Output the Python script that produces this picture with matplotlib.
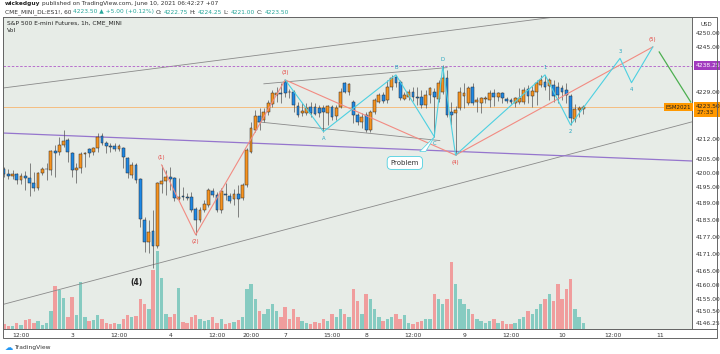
import matplotlib
matplotlib.use("Agg")
import matplotlib.pyplot as plt
from matplotlib.transforms import blended_transform_factory

plt.rcParams['font.family'] = ['DejaVu Sans']

# hourly ES1! candles, Jun 2 - Jun 10 2021
opens = [4201.2, 4199.4, 4199.0, 4199.4, 4197.4, 4198.9, 4198.0, 4196.2, 4194.6, 4199.8,
         4201.2, 4201.0, 4207.8, 4207.3, 4209.9, 4211.7, 4207.0, 4201.0, 4201.6, 4206.6,
         4208.4, 4207.3, 4208.7, 4213.1, 4210.5, 4209.6, 4209.6, 4208.4, 4208.7, 4205.2,
         4199.2, 4202.8, 4197.6, 4183.1, 4175.3, 4179.0, 4173.8, 4196.0, 4197.2, 4198.4,
         4198.0, 4190.5, 4191.7, 4191.2, 4191.4, 4186.9, 4183.1, 4186.7, 4188.5, 4193.5,
         4192.0, 4186.7, 4192.5, 4191.7, 4190.5, 4192.4, 4190.9, 4195.6, 4207.5, 4215.3,
         4220.3, 4218.9, 4221.8, 4224.6, 4227.8, 4228.6, 4232.6, 4229.0, 4229.0, 4223.9,
         4221.3, 4221.5, 4223.4, 4223.6, 4223.0, 4223.0, 4221.3, 4223.6, 4220.3, 4223.6,
         4232.0, 4229.0, 4225.4, 4220.7, 4218.3, 4220.7, 4215.3, 4221.8, 4225.4, 4227.8,
         4226.0, 4230.8, 4234.1, 4232.6, 4226.3, 4227.2, 4229.0, 4227.2, 4227.2, 4224.2,
         4227.8, 4229.0, 4226.3, 4229.0, 4233.8, 4221.8, 4221.3, 4223.0, 4227.5, 4224.8,
         4230.8, 4225.4, 4225.0, 4226.3, 4226.0, 4228.6, 4227.0, 4228.4, 4226.3, 4226.0,
         4225.1, 4225.4, 4225.4, 4229.9, 4227.5, 4229.0, 4231.4, 4232.6, 4231.0, 4231.4,
         4230.8, 4230.2, 4229.6, 4227.5, 4219.1, 4222.4, 4222.75]
highs = [4202.2, 4201.2, 4200.8, 4200.0, 4200.0, 4200.6, 4203.4, 4200.4, 4200.4, 4202.2,
         4203.4, 4208.1, 4209.9, 4212.9, 4215.3, 4212.3, 4207.5, 4203.4, 4207.5, 4207.5,
         4208.7, 4209.3, 4214.1, 4214.1, 4211.5, 4210.5, 4210.5, 4210.2, 4209.1, 4205.7,
         4204.0, 4203.4, 4198.0, 4184.3, 4183.1, 4186.7, 4196.8, 4202.8, 4201.0, 4202.2,
         4198.6, 4198.0, 4195.0, 4192.9, 4193.1, 4187.9, 4187.9, 4190.2, 4194.4, 4194.4,
         4193.2, 4194.5, 4196.2, 4192.6, 4194.0, 4195.6, 4196.2, 4208.7, 4218.3, 4222.4,
         4223.1, 4223.1, 4226.0, 4229.6, 4230.8, 4232.0, 4233.2, 4229.9, 4229.6, 4225.4,
         4225.0, 4224.8, 4225.2, 4224.8, 4224.4, 4224.2, 4224.2, 4224.2, 4224.2, 4230.2,
         4232.6, 4232.0, 4226.0, 4221.5, 4221.3, 4221.8, 4222.4, 4226.6, 4228.4, 4229.0,
         4233.2, 4235.0, 4235.0, 4233.2, 4229.0, 4230.0, 4230.8, 4230.8, 4229.6, 4229.6,
         4230.8, 4230.2, 4233.2, 4238.5, 4236.8, 4225.4, 4224.0, 4230.8, 4232.0, 4231.0,
         4232.0, 4227.2, 4227.2, 4227.5, 4229.5, 4230.0, 4229.0, 4229.0, 4227.2, 4226.6,
         4227.2, 4230.2, 4230.8, 4231.4, 4231.0, 4233.2, 4235.0, 4235.0, 4234.0, 4233.0,
         4232.6, 4231.4, 4232.0, 4228.0, 4224.5, 4223.9, 4224.25]
lows = [4198.6, 4197.6, 4197.6, 4195.8, 4195.8, 4193.7, 4191.7, 4193.5, 4193.8, 4199.3,
        4197.4, 4199.2, 4198.6, 4206.3, 4209.3, 4204.0, 4198.6, 4196.2, 4199.8, 4202.2,
        4205.7, 4206.3, 4207.5, 4210.0, 4207.2, 4207.5, 4207.9, 4207.9, 4201.6, 4198.0,
        4198.0, 4196.2, 4180.7, 4171.8, 4171.2, 4165.9, 4173.0, 4192.7, 4192.0, 4193.8,
        4190.0, 4190.2, 4190.2, 4190.2, 4186.1, 4177.8, 4182.5, 4186.1, 4187.9, 4191.4,
        4186.1, 4185.6, 4190.2, 4189.1, 4188.5, 4184.3, 4190.2, 4195.0, 4207.0, 4214.7,
        4215.3, 4218.3, 4220.7, 4223.6, 4225.4, 4224.8, 4227.2, 4226.6, 4221.8, 4220.1,
        4220.3, 4220.7, 4220.1, 4220.5, 4220.1, 4214.7, 4217.1, 4218.9, 4218.9, 4223.0,
        4228.4, 4227.8, 4217.7, 4217.1, 4215.9, 4214.7, 4214.7, 4221.0, 4224.8, 4224.8,
        4225.0, 4229.6, 4230.8, 4226.0, 4226.0, 4226.0, 4225.8, 4224.2, 4223.0, 4223.0,
        4224.8, 4212.9, 4225.4, 4228.0, 4220.1, 4217.1, 4206.3, 4222.4, 4223.0, 4224.2,
        4224.2, 4221.8, 4221.5, 4225.0, 4223.6, 4224.0, 4225.5, 4224.8, 4225.0, 4224.5,
        4223.6, 4224.5, 4224.5, 4224.8, 4223.6, 4224.2, 4230.8, 4229.6, 4226.0, 4225.4,
        4224.8, 4226.0, 4224.8, 4217.1, 4218.3, 4220.0, 4221.0]
closes = [4199.4, 4199.0, 4199.4, 4197.4, 4198.9, 4198.0, 4196.2, 4194.6, 4199.8, 4201.2,
          4201.5, 4207.8, 4207.0, 4209.9, 4211.4, 4207.5, 4201.0, 4201.6, 4206.6, 4207.2,
          4207.0, 4208.7, 4212.9, 4210.5, 4209.6, 4209.1, 4208.4, 4209.4, 4205.5, 4199.8,
          4202.8, 4197.4, 4183.3, 4175.3, 4178.9, 4173.8, 4196.2, 4197.2, 4198.6, 4197.9,
          4190.9, 4191.4, 4191.2, 4191.1, 4186.7, 4183.1, 4186.7, 4188.7, 4193.8, 4192.0,
          4186.7, 4193.5, 4192.1, 4190.0, 4192.4, 4190.5, 4195.6, 4208.1, 4215.9, 4220.3,
          4218.3, 4221.8, 4224.8, 4228.4, 4228.6, 4228.2, 4228.6, 4228.7, 4224.2, 4220.7,
          4222.2, 4223.1, 4221.3, 4221.0, 4221.3, 4221.8, 4223.9, 4220.1, 4223.0, 4229.0,
          4229.0, 4231.6, 4220.7, 4218.3, 4220.1, 4215.3, 4221.8, 4226.0, 4227.8, 4225.6,
          4230.8, 4233.8, 4232.0, 4226.6, 4227.8, 4229.0, 4227.2, 4226.6, 4224.2, 4227.8,
          4230.2, 4227.0, 4232.0, 4233.8, 4220.7, 4220.7, 4222.4, 4229.0, 4228.4, 4230.2,
          4225.1, 4226.0, 4226.6, 4226.8, 4228.4, 4227.2, 4228.4, 4226.6, 4225.8, 4225.2,
          4226.6, 4226.6, 4229.6, 4227.5, 4229.4, 4232.0, 4233.2, 4230.8, 4233.0, 4227.5,
          4227.8, 4229.0, 4227.8, 4219.5, 4222.7, 4223.0, 4223.5]
volumes = [5, 3, 3, 6, 4, 9, 10, 6, 8, 4, 6, 18, 43, 39, 31, 12, 32, 14, 47, 12,
           8, 9, 14, 10, 6, 5, 6, 5, 10, 14, 12, 13, 30, 25, 20, 59, 78, 51, 15, 12,
           15, 41, 7, 6, 12, 14, 10, 8, 9, 12, 6, 10, 5, 6, 7, 9, 12, 40, 45, 30,
           18, 15, 20, 25, 18, 12, 22, 10, 20, 12, 8, 6, 5, 7, 6, 10, 8, 15, 12, 20,
           15, 12, 40, 28, 15, 35, 30, 20, 12, 8, 10, 12, 15, 10, 14, 6, 5, 7, 8, 10,
           10, 35, 30, 25, 30, 67, 45, 30, 25, 20, 15, 10, 8, 6, 8, 10, 6, 8, 5, 5,
           6, 10, 12, 18, 15, 20, 25, 30, 35, 28, 45, 30, 40, 50, 20, 12, 6]

time_ticks = [4, 16, 27, 39, 50, 58, 66, 77, 85, 96, 108, 119, 131, 143, 154]
time_labels = ["12:00", "3", "12:00", "4", "12:00", "20:00", "7", "15:00", "8",
               "12:00", "9", "12:00", "10", "12:00", "11"]
price_ticks = [4146.25, 4150.50, 4155, 4160, 4165, 4171, 4177, 4183, 4189, 4195,
               4200, 4205, 4212, 4229, 4245, 4250]

last_price = 4223.50
alert_price = 4238.25

# wave counts (bar, price)
red_wave = [(37, 4202.8), (45, 4177.8), (66, 4233.2), (106, 4206.3), (152.3, 4245.0)]
red_names = ["(1)", "(2)", "(3)", "(4)", "(5)"]
cyan_wave = [(66, 4233.2), (75, 4214.7), (92, 4235.0), (101, 4212.9), (103, 4238.0),
             (106, 4206.3), (127, 4235.0), (133, 4217.1), (144.6, 4240.9), (147.3, 4232.2),
             (152.3, 4245.0)]
cyan_names = ["", "A", "B", "C", "D", "", "1", "2", "3", "4", ""]
green_leg = [(153.8, 4243.2), (161.2, 4225.3)]

W, H = 720, 354
bg = '#e7ece7'
xlim = (-0.23, 161.5)
ylim = (4144.1, 4255.7)
rect = [3 / W, 1 - 329 / H, 689 / W, 312 / H]

fig = plt.figure(figsize=(W / 100, H / 100), dpi=100)
fig.patch.set_facecolor('white')

# volume pane underneath
vax = fig.add_axes(rect)
vax.set_facecolor(bg)
up = [c >= o for o, c in zip(opens, closes)]
vcol = ['#86cbc1' if u else '#f09d9d' for u in up]
vax.bar(range(len(volumes)), volumes, width=0.8, color=vcol, linewidth=0)
vax.set_xlim(xlim)
vax.set_ylim(0, 312)
vax.set_xticks([])
vax.set_yticks([])
for s in vax.spines.values():
    s.set_visible(False)

ax = fig.add_axes(rect, facecolor='none')
ax.set_xlim(xlim)
ax.set_ylim(ylim)

# trend lines
ax.axline((-0.23, 4230.3), (129.3, 4255.7), color='#8a8a8a', lw=0.6)
ax.axline((3.76, 4154.5), (161.5, 4218.2), color='#8a8a8a', lw=0.6)
ax.axline((-0.23, 4214.2), (161.5, 4204.2), color='#9575cd', lw=0.9)
ax.plot([61, 104], [4231.8, 4237.6], color='#8a8a8a', lw=0.6)
ax.plot([59.6, 102.3], [4218.2, 4211.5], color='#8a8a8a', lw=0.6)
ax.axhline(last_price, color='#f5bd80', lw=0.7)
ax.axhline(alert_price, color='#b05cc8', lw=0.6, dashes=(3, 2))

# candles
for i in range(len(opens)):
    o, h, l, c = opens[i], highs[i], lows[i], closes[i]
    ax.vlines(i, l, h, color='#555555', lw=0.5, zorder=3)
    body = max(abs(c - o), 0.3)
    ax.bar(i, body, bottom=min(o, c), width=0.66, zorder=4,
           color='#f7931e' if c >= o else '#1e88e5', edgecolor='#2a2a2a', linewidth=0.35)

# waves
ax.plot([p[0] for p in red_wave], [p[1] for p in red_wave], color='#f28b82', lw=0.8, zorder=5)
ax.plot([p[0] for p in cyan_wave], [p[1] for p in cyan_wave], color='#4dd0e1', lw=0.8, zorder=5)
ax.plot([p[0] for p in green_leg], [p[1] for p in green_leg], color='#4caf50', lw=0.9, zorder=5)

for (x, y), name, dy in zip(red_wave, red_names, [1, -1, 1, -1, 1]):
    ax.annotate(name, (x, y), xytext=(0, 5 * dy), textcoords='offset points',
                ha='center', va='center', fontsize=3.8, color='#e53935', zorder=6)
for (x, y), name in zip(cyan_wave, cyan_names):
    if not name:
        continue
    dy = 1 if name in ("B", "D", "1", "3") else -1
    ax.annotate(name, (x, y), xytext=(0, 5 * dy), textcoords='offset points',
                ha='center', va='center', fontsize=3.8, color='#26a6c0', zorder=6)

ax.text(31.2, 4160.9, "(4)", fontsize=5.5, fontweight='bold', color='#222222',
        ha='center', va='center')

# "Problem" callout pointing at C
ax.fill([97.6, 99.0, 101.0], [4207.6, 4207.6, 4212.8], color='white', ec='#4dd0e1', lw=0.5, zorder=6)
ax.text(94.1, 4203.5, "Problem", fontsize=5, color='#333333', ha='center', va='center', zorder=7,
        bbox=dict(boxstyle='round,pad=0.5,rounding_size=0.6', fc='white', ec='#4dd0e1', lw=0.6))

# axes styling
ax.yaxis.tick_right()
ax.set_yticks(price_ticks)
ax.set_yticklabels(["%.2f" % p for p in price_ticks])
ax.set_xticks(time_ticks)
ax.set_xticklabels(time_labels)
ax.tick_params(axis='both', length=0, labelsize=4.3, labelcolor='#333333')
ax.tick_params(axis='y', pad=3)
ax.tick_params(axis='x', pad=3)
for s in ax.spines.values():
    s.set_color('#666666')
    s.set_linewidth(0.7)

# price tags on the scale
tr = blended_transform_factory(ax.transAxes, ax.transData)
ax.text(1.006, alert_price, "%.2f" % alert_price, transform=tr, fontsize=4.3, color='white',
        va='center', ha='left', zorder=8,
        bbox=dict(boxstyle='square,pad=0.35', fc='#a23bbf', ec='none'))
ax.text(1.006, last_price - 0.9, "%.2f\n27:33" % last_price, transform=tr, fontsize=4.3,
        color='#222222', va='center', ha='left', linespacing=1.1, zorder=8,
        bbox=dict(boxstyle='square,pad=0.35', fc='#ff9800', ec='none'))
ax.text(0.9985, last_price, "ESM2021", transform=tr, fontsize=4.0, color='#222222',
        va='center', ha='right', zorder=8,
        bbox=dict(boxstyle='square,pad=0.3', fc='#ff9800', ec='none'))
fig.text(706 / W, 1 - 24 / H, "USD", fontsize=4, color='#333333', ha='center', va='center')

# outer frame of the chart box
fr = plt.Rectangle((3 / W, 1 - 338 / H), 714 / W, 321 / H, transform=fig.transFigure,
                   fill=False, ec='#666666', lw=0.7)
fig.patches.append(fr)
fig.add_artist(plt.Line2D([3 / W, 717 / W], [1 - 329 / H, 1 - 329 / H], color='#666666', lw=0.7))

# header
rend = fig.canvas.get_renderer()

def write_parts(x, y, parts, size):
    for s, col, wt in parts:
        t = fig.text(x, y, s, fontsize=size, color=col, fontweight=wt, va='center')
        x += (t.get_window_extent(renderer=rend).width + 1.6) / fig.bbox.width

teal = '#26a69a'
write_parts(5 / W, 1 - 4 / H, [("wickedguy", '#222222', 'bold'),
                                ("published on TradingView.com, June 10, 2021 06:42:27 +07", '#333333', 'normal')], 4.2)
write_parts(5 / W, 1 - 12 / H, [("CME_MINI_DL:ES1!, 60", '#333333', 'normal'),
                                 ("4223.50 \u25b2 +5.00 (+0.12%)", teal, 'normal'),
                                 ("O:", '#333333', 'normal'), ("4222.75", teal, 'normal'),
                                 ("H:", '#333333', 'normal'), ("4224.25", teal, 'normal'),
                                 ("L:", '#333333', 'normal'), ("4221.00", teal, 'normal'),
                                 ("C:", '#333333', 'normal'), ("4223.50", teal, 'normal')], 4.2)
fig.text(7 / W, 1 - 23 / H, "S&P 500 E-mini Futures, 1h, CME_MINI", fontsize=4.3, color='#222222', va='center')
fig.text(7 / W, 1 - 31 / H, "Vol", fontsize=4.3, color='#222222', va='center')

fig.text(5 / W, 1 - 347 / H, "\u2601", fontsize=6, color='#2196f3', va='center')
fig.text(14 / W, 1 - 347 / H, "TradingView", fontsize=4.3, color='#333333', va='center')

fig.savefig("out.png", dpi=100)
